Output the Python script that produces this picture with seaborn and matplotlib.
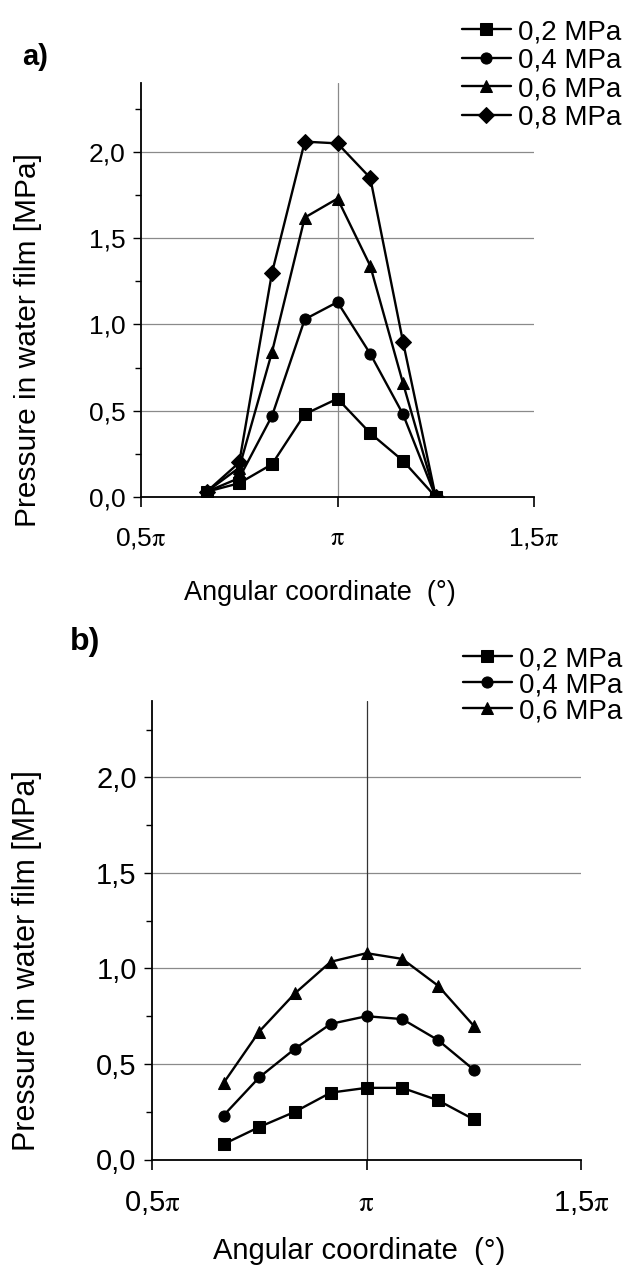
import numpy as np
import pandas as pd
import matplotlib
matplotlib.use("Agg")
import matplotlib.pyplot as plt
import seaborn as sns

# angular positions of the measuring points, degrees
angle_deg = [120, 135, 150, 165, 180, 195, 210, 225]

# a) pressure in water film [MPa]
a_labels = ["0,2 MPa", "0,4 MPa", "0,6 MPa", "0,8 MPa"]
a_02 = [0.03, 0.08, 0.19, 0.48, 0.57, 0.37, 0.21, 0.0]
a_04 = [0.03, 0.11, 0.47, 1.03, 1.13, 0.83, 0.48, 0.0]
a_06 = [0.03, 0.17, 0.84, 1.62, 1.73, 1.34, 0.66, 0.0]
a_08 = [0.03, 0.20, 1.30, 2.06, 2.05, 1.85, 0.90, 0.0]

# b) pressure in water film [MPa]
b_labels = ["0,2 MPa", "0,4 MPa", "0,6 MPa"]
b_02 = [0.08, 0.17, 0.25, 0.35, 0.375, 0.375, 0.31, 0.21]
b_04 = [0.23, 0.43, 0.58, 0.71, 0.75, 0.735, 0.625, 0.47]
b_06 = [0.40, 0.67, 0.87, 1.035, 1.08, 1.05, 0.91, 0.70]

x_ticks = [0.5, 1.0, 1.5]
x_ticklabels = [r"0,5$\mathrm{\pi}$", r"$\mathrm{\pi}$", r"1,5$\mathrm{\pi}$"]
y_ticks = [0.0, 0.5, 1.0, 1.5, 2.0]
y_ticklabels = ["0,0", "0,5", "1,0", "1,5", "2,0"]

sns.set_style("white")
plt.rcParams["font.family"] = ["Liberation Sans", "DejaVu Sans"]
plt.rcParams["mathtext.fontset"] = "stix"
plt.rcParams.update({"text.color": "black", "axes.labelcolor": "black",
                     "xtick.color": "black", "ytick.color": "black"})


def make_df(series, labels):
    rows = []
    for vals, lab in zip(series, labels):
        for a, v in zip(angle_deg, vals):
            rows.append({"x": a / 180.0, "p": v, "series": lab})
    return pd.DataFrame(rows)


def draw(ax, df, labels, markers, fs_tick, fs_ylab, fs_xlab, vcol, ylab_pos, xlab_pos):
    sns.lineplot(data=df, x="x", y="p", hue="series", style="series",
                 markers=markers, dashes=False, palette=["black"] * len(labels),
                 markersize=8, linewidth=1.7, markeredgecolor="black",
                 legend=False, ax=ax, zorder=3)
    handles = list(ax.lines[:len(labels)])
    ax.set_xlim(0.5, 1.5)
    ax.set_ylim(0, 2.4)
    for y in y_ticks[1:]:
        ax.axhline(y, color="#8a8a8a", lw=0.9, zorder=1)
    ax.axvline(1.0, color=vcol, lw=0.9, zorder=1)
    ax.set_xticks(x_ticks)
    ax.set_xticklabels(x_ticklabels, fontsize=fs_tick)
    ax.set_yticks(y_ticks)
    ax.set_yticklabels(y_ticklabels, fontsize=fs_tick)
    ax.set_yticks([0.25, 0.75, 1.25, 1.75, 2.25], minor=True)
    ax.tick_params(axis="y", which="major", direction="out", length=6, width=1, left=True, pad=5)
    ax.tick_params(axis="y", which="minor", direction="out", length=4, width=1, left=True)
    ax.tick_params(axis="x", which="major", direction="out", length=7, width=1.2, bottom=True, pad=14)
    for s in ["top", "right"]:
        ax.spines[s].set_visible(False)
    for s in ["left", "bottom"]:
        ax.spines[s].set_color("black")
        ax.spines[s].set_linewidth(1.3)
    ax.set_ylabel("Pressure in water film [MPa]", fontsize=fs_ylab)
    ax.set_xlabel("Angular coordinate  (°)", fontsize=fs_xlab)
    ax.yaxis.set_label_coords(*ylab_pos)
    ax.xaxis.set_label_coords(*xlab_pos)
    return handles


fig = plt.figure(figsize=(6.33, 12.65), dpi=100)

ax_a = fig.add_axes([141 / 633, 1 - 497 / 1265, 393 / 633, 414 / 1265])
df_a = make_df([a_02, a_04, a_06, a_08], a_labels)
h_a = draw(ax_a, df_a, a_labels, ["s", "o", "^", "D"], 19, 21.5, 19.5, "#8a8a8a",
           (-0.252, 0.38), (0.455, -0.2))
fig.legend(h_a, a_labels, loc="upper right", bbox_to_anchor=(1 - 1 / 633, 1 - 8 / 1265),
           frameon=False, fontsize=20, handlelength=1.75, handletextpad=0.25,
           labelspacing=0.09, borderaxespad=0.0)
fig.text(22 / 633, 1 - 57 / 1265, "a)", fontsize=21, fontweight="bold", va="center")

ax_b = fig.add_axes([152 / 633, 1 - 1159.5 / 1265, 429 / 633, 458.5 / 1265])
df_b = make_df([b_02, b_04, b_06], b_labels)
h_b = draw(ax_b, df_b, b_labels, ["s", "o", "^"], 21, 22, 21, "#333333",
           (-0.256, 0.433), (0.483, -0.169))
fig.legend(h_b, b_labels, loc="upper right", bbox_to_anchor=(1.0, 1 - 635 / 1265),
           frameon=False, fontsize=20, handlelength=1.75, handletextpad=0.25,
           labelspacing=0.0, borderaxespad=0.0)
fig.text(70 / 633, 1 - 642 / 1265, "b)", fontsize=23, fontweight="bold", va="center")

fig.savefig("out.png", dpi=100)
